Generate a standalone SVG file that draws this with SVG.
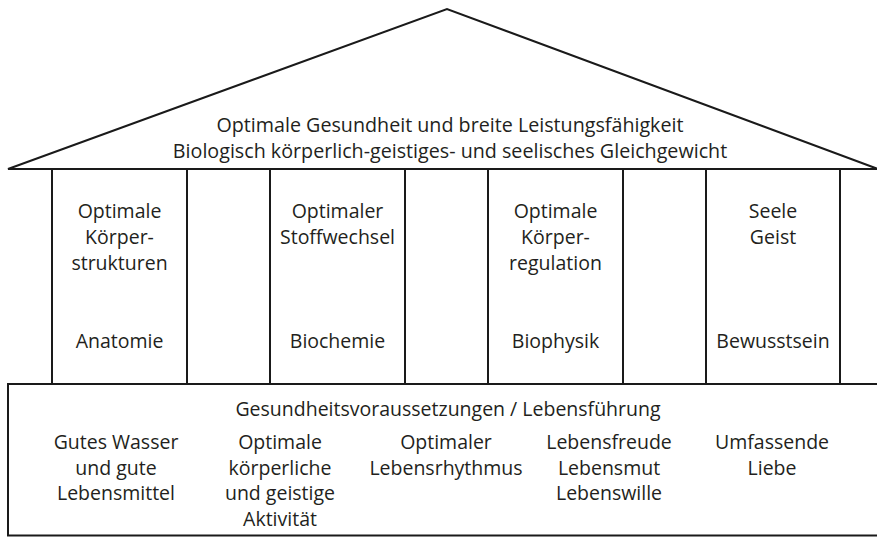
<svg xmlns="http://www.w3.org/2000/svg" width="877" height="537" viewBox="0 0 877 537">
<style>
.ln{fill:none;stroke:#1a1a1a;stroke-width:2;stroke-linejoin:miter}
text{font-family:"Open Sans","Noto Sans",sans-serif;font-size:19.5px;fill:#231f20;text-anchor:middle}
.rf{font-size:19.7px}
</style>
<rect width="877" height="537" fill="#fff"/>
<g id="roof">
<path class="ln" d="M8,169 L447,9 L878,169 Z"/>
<text class="rf" x="450" y="132">Optimale Gesundheit und breite Leistungsfähigkeit</text>
<text class="rf" x="450" y="158">Biologisch körperlich-geistiges- und seelisches Gleichgewicht</text>
</g>
<g id="connectors">
<line class="ln" x1="52" y1="169" x2="52" y2="384"/>
<line class="ln" x1="187" y1="169" x2="187" y2="384"/>
<line class="ln" x1="270" y1="169" x2="270" y2="384"/>
<line class="ln" x1="405" y1="169" x2="405" y2="384"/>
<line class="ln" x1="488" y1="169" x2="488" y2="384"/>
<line class="ln" x1="623" y1="169" x2="623" y2="384"/>
<line class="ln" x1="706" y1="169" x2="706" y2="384"/>
<line class="ln" x1="840" y1="169" x2="840" y2="384"/>
</g>
<g id="col1">
<text x="119.5" y="218">Optimale</text>
<text x="119.5" y="244">Körper-</text>
<text x="119.5" y="270">strukturen</text>
<text x="119.5" y="348">Anatomie</text>
</g>
<g id="col2">
<text x="337.5" y="218">Optimaler</text>
<text x="337.5" y="244">Stoffwechsel</text>
<text x="337.5" y="348">Biochemie</text>
</g>
<g id="col3">
<text x="555.5" y="218">Optimale</text>
<text x="555.5" y="244">Körper-</text>
<text x="555.5" y="270">regulation</text>
<text x="555.5" y="348">Biophysik</text>
</g>
<g id="col4">
<text x="773" y="218">Seele</text>
<text x="773" y="244">Geist</text>
<text x="773" y="348">Bewusstsein</text>
</g>
<g id="base">
<path class="ln" d="M880,384 L8,384 L8,535.5 L880,535.5"/>
<text x="448" y="416">Gesundheitsvoraussetzungen / Lebensführung</text>
</g>
<g id="item1">
<text x="116" y="449">Gutes Wasser</text>
<text x="116" y="475">und gute</text>
<text x="116" y="500">Lebensmittel</text>
</g>
<g id="item2">
<text x="280" y="449">Optimale</text>
<text x="280" y="475">körperliche</text>
<text x="280" y="500">und geistige</text>
<text x="280" y="526">Aktivität</text>
</g>
<g id="item3">
<text x="446" y="449">Optimaler</text>
<text x="446" y="475">Lebensrhythmus</text>
</g>
<g id="item4">
<text x="609" y="449">Lebensfreude</text>
<text x="609" y="475">Lebensmut</text>
<text x="609" y="500">Lebenswille</text>
</g>
<g id="item5">
<text x="772" y="449">Umfassende</text>
<text x="772" y="475">Liebe</text>
</g>
</svg>
